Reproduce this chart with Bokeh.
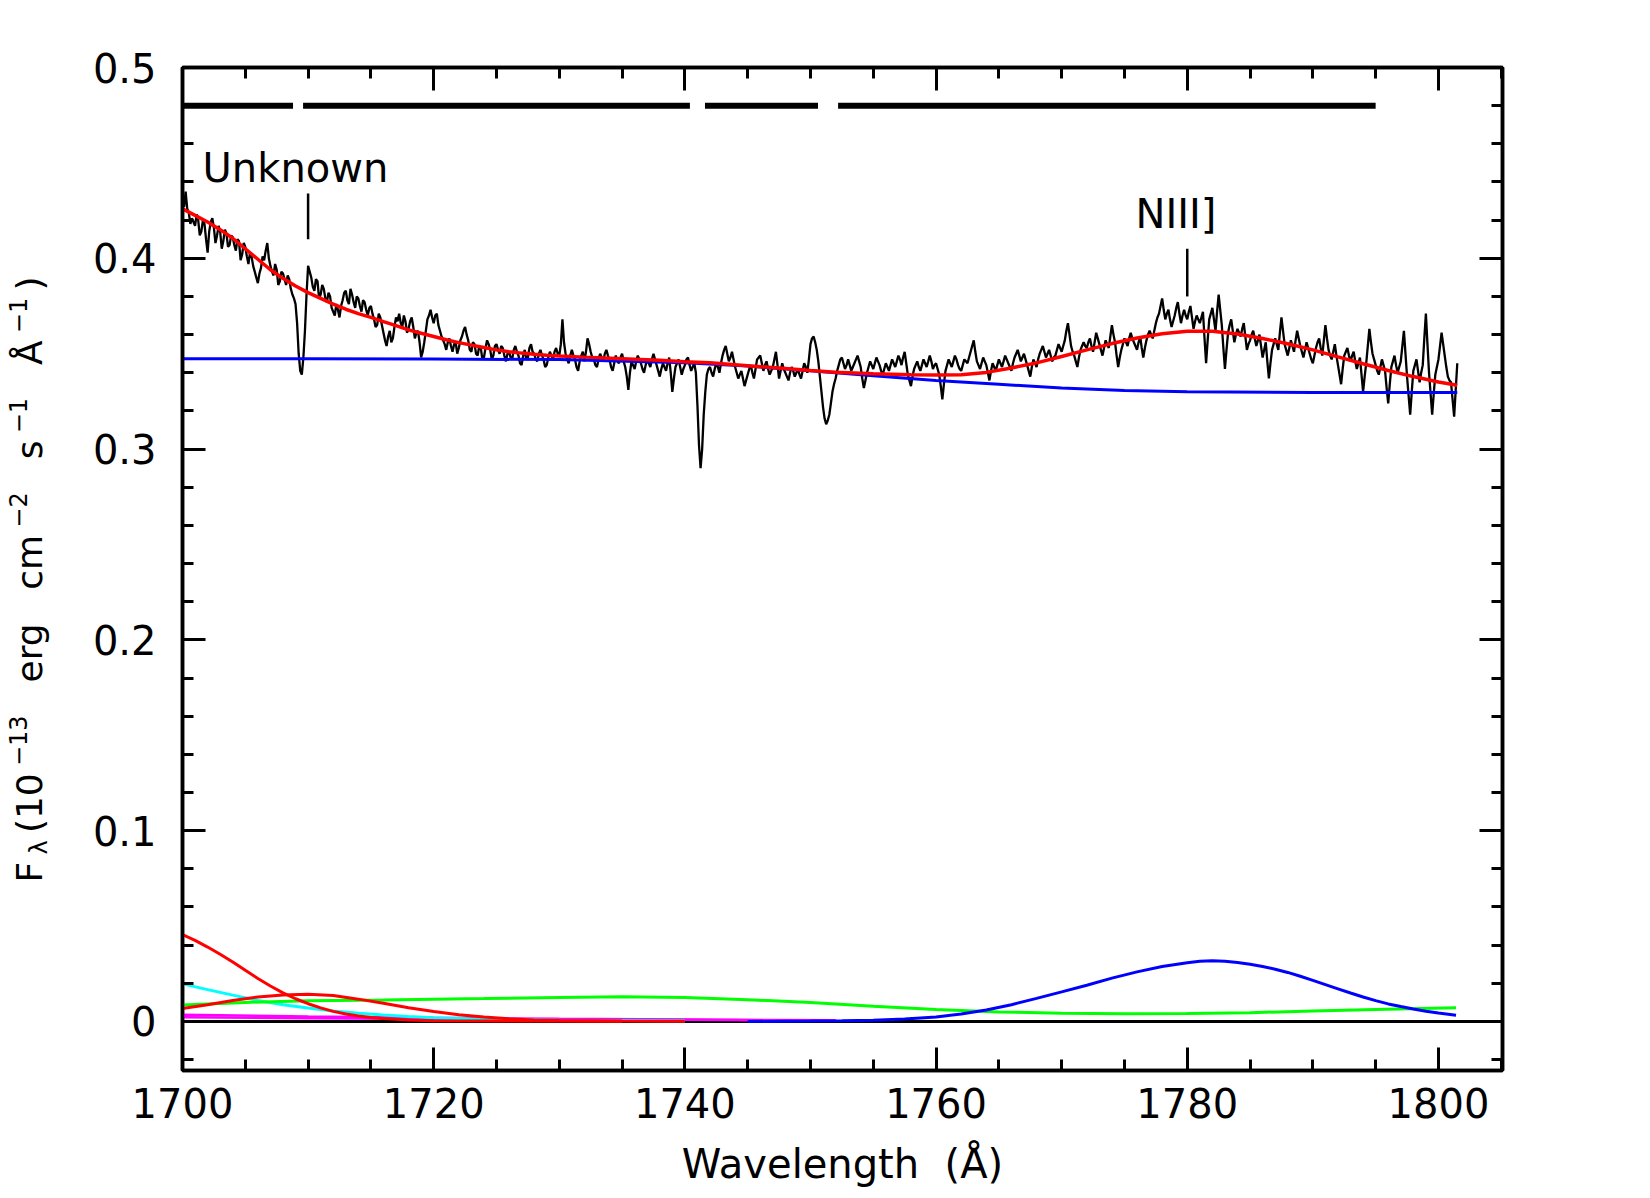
import math
from bokeh.plotting import figure
from bokeh.layouts import row
from bokeh.models import Range1d, FixedTicker, LinearAxis, CustomJSTickFormatter
from bokeh.core.properties import value
from bokeh.embed import file_html
from bokeh.resources import INLINE

FONT = "DejaVu Sans"

# ---------------- data ----------------
wave_start = 1700.0
wave_step = 0.125
flux = [
    0.430, 0.427, 0.435, 0.426, 0.424, 0.418, 0.421, 0.419,
    0.417, 0.423, 0.420, 0.412, 0.414, 0.420, 0.418, 0.410,
    0.403, 0.414, 0.419, 0.421, 0.416, 0.408, 0.412, 0.417,
    0.414, 0.405, 0.409, 0.415, 0.413, 0.406, 0.407, 0.412,
    0.411, 0.407, 0.404, 0.410, 0.409, 0.399, 0.402, 0.408,
    0.406, 0.401, 0.397, 0.403, 0.401, 0.396, 0.393, 0.390,
    0.387, 0.392, 0.395, 0.401, 0.399, 0.404, 0.408, 0.400,
    0.396, 0.393, 0.391, 0.397, 0.394, 0.386, 0.388, 0.393,
    0.392, 0.389, 0.386, 0.391, 0.389, 0.384, 0.381, 0.379,
    0.376, 0.366, 0.350, 0.341, 0.339, 0.348, 0.362, 0.381,
    0.396, 0.393, 0.390, 0.385, 0.383, 0.389, 0.388, 0.379,
    0.381, 0.386, 0.384, 0.379, 0.377, 0.382, 0.380, 0.374,
    0.372, 0.370, 0.376, 0.373, 0.369, 0.375, 0.378, 0.382,
    0.383, 0.378, 0.376, 0.384, 0.381, 0.377, 0.374, 0.380,
    0.379, 0.375, 0.372, 0.378, 0.377, 0.373, 0.370, 0.374,
    0.375, 0.371, 0.368, 0.364, 0.365, 0.371, 0.369, 0.365,
    0.361, 0.357, 0.354, 0.359, 0.362, 0.356, 0.358, 0.364,
    0.369, 0.367, 0.371, 0.366, 0.364, 0.370, 0.367, 0.361,
    0.363, 0.367, 0.369, 0.364, 0.358, 0.361, 0.362, 0.356,
    0.348, 0.351, 0.356, 0.362, 0.368, 0.370, 0.373, 0.369,
    0.366, 0.370, 0.371, 0.365, 0.362, 0.359, 0.357, 0.355,
    0.352, 0.356, 0.358, 0.354, 0.351, 0.355, 0.356, 0.350,
    0.353, 0.357, 0.359, 0.362, 0.364, 0.360, 0.357, 0.352,
    0.351, 0.356, 0.355, 0.350, 0.349, 0.354, 0.353, 0.347,
    0.348, 0.353, 0.357, 0.355, 0.352, 0.347, 0.349, 0.354,
    0.355, 0.352, 0.350, 0.354, 0.353, 0.349, 0.346, 0.350,
    0.351, 0.348, 0.347, 0.352, 0.354, 0.351, 0.349, 0.345,
    0.344, 0.349, 0.352, 0.347, 0.348, 0.353, 0.355, 0.351,
    0.350, 0.347, 0.346, 0.350, 0.352, 0.349, 0.347, 0.343,
    0.344, 0.348, 0.351, 0.349, 0.347, 0.351, 0.353, 0.350,
    0.349, 0.355, 0.368, 0.356, 0.350, 0.347, 0.345, 0.349,
    0.352, 0.349, 0.347, 0.343, 0.341, 0.346, 0.349, 0.351,
    0.346, 0.351, 0.358, 0.355, 0.351, 0.348, 0.347, 0.344,
    0.343, 0.347, 0.350, 0.348, 0.346, 0.350, 0.352, 0.349,
    0.347, 0.343, 0.341, 0.345, 0.349, 0.346, 0.345, 0.348,
    0.350, 0.346, 0.343, 0.338, 0.331, 0.340, 0.346, 0.344,
    0.342, 0.346, 0.349, 0.347, 0.345, 0.342, 0.340, 0.344,
    0.347, 0.345, 0.343, 0.347, 0.350, 0.347, 0.344, 0.341,
    0.338, 0.342, 0.345, 0.343, 0.341, 0.345, 0.348, 0.340,
    0.330, 0.337, 0.343, 0.345, 0.347, 0.343, 0.339, 0.342,
    0.344, 0.347, 0.348, 0.344, 0.341, 0.343, 0.345, 0.340,
    0.323, 0.302, 0.290, 0.300, 0.318, 0.330, 0.339, 0.342,
    0.343, 0.340, 0.338, 0.342, 0.345, 0.343, 0.340, 0.345,
    0.349, 0.352, 0.354, 0.350, 0.346, 0.348, 0.351, 0.347,
    0.343, 0.340, 0.337, 0.339, 0.341, 0.337, 0.333, 0.336,
    0.339, 0.342, 0.344, 0.340, 0.337, 0.342, 0.347, 0.348,
    0.349, 0.345, 0.341, 0.344, 0.346, 0.342, 0.339, 0.341,
    0.343, 0.347, 0.351, 0.344, 0.337, 0.341, 0.345, 0.342,
    0.340, 0.338, 0.336, 0.340, 0.343, 0.341, 0.338, 0.340,
    0.342, 0.339, 0.337, 0.341, 0.345, 0.343, 0.340, 0.347,
    0.355, 0.358, 0.359, 0.356, 0.352, 0.346, 0.338, 0.330,
    0.322, 0.316, 0.313, 0.315, 0.318, 0.324, 0.330, 0.334,
    0.337, 0.341, 0.344, 0.347, 0.348, 0.345, 0.342, 0.344,
    0.347, 0.344, 0.341, 0.343, 0.345, 0.347, 0.349, 0.346,
    0.343, 0.337, 0.332, 0.336, 0.340, 0.343, 0.346, 0.344,
    0.342, 0.345, 0.348, 0.346, 0.344, 0.341, 0.339, 0.342,
    0.345, 0.343, 0.341, 0.344, 0.347, 0.345, 0.343, 0.346,
    0.349, 0.347, 0.344, 0.348, 0.351, 0.345, 0.339, 0.336,
    0.333, 0.338, 0.342, 0.344, 0.346, 0.343, 0.341, 0.344,
    0.347, 0.345, 0.343, 0.346, 0.349, 0.346, 0.342, 0.344,
    0.345, 0.342, 0.339, 0.333, 0.326, 0.334, 0.341, 0.344,
    0.347, 0.345, 0.343, 0.346, 0.349, 0.347, 0.344, 0.342,
    0.341, 0.344, 0.347, 0.346, 0.345, 0.348, 0.351, 0.354,
    0.357, 0.351, 0.346, 0.344, 0.342, 0.345, 0.348, 0.346,
    0.344, 0.340, 0.336, 0.341, 0.345, 0.343, 0.341, 0.344,
    0.347, 0.345, 0.343, 0.346, 0.349, 0.347, 0.345, 0.343,
    0.341, 0.345, 0.348, 0.350, 0.352, 0.349, 0.346, 0.348,
    0.350, 0.347, 0.344, 0.341, 0.338, 0.343, 0.347, 0.345,
    0.343, 0.347, 0.350, 0.352, 0.354, 0.351, 0.348, 0.350,
    0.352, 0.349, 0.346, 0.348, 0.349, 0.352, 0.355, 0.353,
    0.351, 0.354, 0.357, 0.362, 0.366, 0.360, 0.354, 0.351,
    0.349, 0.346, 0.343, 0.348, 0.352, 0.354, 0.356, 0.354,
    0.353, 0.356, 0.358, 0.354, 0.351, 0.356, 0.361, 0.358,
    0.355, 0.352, 0.349, 0.353, 0.357, 0.355, 0.353, 0.359,
    0.365, 0.360, 0.356, 0.349, 0.343, 0.348, 0.352, 0.355,
    0.358, 0.356, 0.354, 0.358, 0.361, 0.358, 0.356, 0.354,
    0.352, 0.356, 0.359, 0.353, 0.348, 0.353, 0.357, 0.360,
    0.362, 0.360, 0.358, 0.362, 0.366, 0.369, 0.371, 0.375,
    0.379, 0.373, 0.368, 0.371, 0.373, 0.368, 0.364, 0.367,
    0.370, 0.374, 0.377, 0.371, 0.366, 0.370, 0.373, 0.370,
    0.368, 0.372, 0.375, 0.369, 0.363, 0.367, 0.370, 0.368,
    0.366, 0.369, 0.372, 0.358, 0.345, 0.357, 0.368, 0.371,
    0.374, 0.368, 0.362, 0.372, 0.381, 0.373, 0.365, 0.353,
    0.342, 0.352, 0.361, 0.365, 0.368, 0.362, 0.356, 0.360,
    0.363, 0.361, 0.359, 0.363, 0.366, 0.359, 0.352, 0.355,
    0.357, 0.360, 0.362, 0.358, 0.354, 0.357, 0.360, 0.354,
    0.348, 0.352, 0.356, 0.346, 0.337, 0.345, 0.352, 0.355,
    0.358, 0.355, 0.352, 0.361, 0.369, 0.362, 0.355, 0.352,
    0.349, 0.353, 0.357, 0.354, 0.351, 0.357, 0.362, 0.358,
    0.354, 0.351, 0.348, 0.352, 0.356, 0.353, 0.350, 0.347,
    0.345, 0.349, 0.353, 0.356, 0.358, 0.353, 0.349, 0.357,
    0.365, 0.358, 0.352, 0.349, 0.347, 0.351, 0.355, 0.349,
    0.344, 0.339, 0.334, 0.342, 0.349, 0.351, 0.353, 0.349,
    0.346, 0.349, 0.351, 0.346, 0.342, 0.345, 0.348, 0.339,
    0.330, 0.338, 0.345, 0.354, 0.363, 0.356, 0.350, 0.347,
    0.344, 0.341, 0.339, 0.343, 0.347, 0.344, 0.341, 0.332,
    0.324, 0.334, 0.343, 0.346, 0.349, 0.344, 0.340, 0.343,
    0.346, 0.354, 0.362, 0.350, 0.338, 0.328, 0.318, 0.330,
    0.341, 0.344, 0.347, 0.341, 0.335, 0.340, 0.344, 0.358,
    0.371, 0.355, 0.340, 0.329, 0.318, 0.329, 0.339, 0.343,
    0.347, 0.354, 0.361, 0.355, 0.349, 0.343, 0.338, 0.336,
    0.335, 0.326, 0.317, 0.331, 0.345,
]
wave = [wave_start + i * wave_step for i in range(len(flux))]

# total model (red)
model_wave = [1700, 1701, 1702, 1703, 1704, 1705, 1706, 1707, 1708, 1709, 1710,
              1711, 1712, 1713, 1714, 1715, 1716, 1717, 1718, 1719, 1720, 1721,
              1722, 1723, 1724, 1725, 1726, 1727, 1728, 1729, 1730, 1732, 1735,
              1738, 1740, 1742, 1745, 1748, 1750, 1752, 1755, 1758, 1760, 1762,
              1764, 1766, 1768, 1770, 1772, 1774, 1776, 1778, 1780, 1782, 1784,
              1786, 1788, 1790, 1792, 1794, 1796, 1798, 1800, 1801.5]
model_flux = [0.426, 0.4225, 0.419, 0.415, 0.4105, 0.405, 0.3995, 0.394, 0.3895, 0.3855, 0.382,
              0.379, 0.376, 0.3733, 0.371, 0.369, 0.3668, 0.3647, 0.3625, 0.3607, 0.359, 0.3573,
              0.3558, 0.3545, 0.3532, 0.352, 0.351, 0.3503, 0.3497, 0.3492, 0.3488, 0.3482, 0.3474,
              0.3465, 0.3458, 0.3452, 0.3437, 0.3422, 0.3412, 0.3403, 0.3395, 0.339, 0.3388, 0.339,
              0.3402, 0.3425, 0.3452, 0.3485, 0.352, 0.3553, 0.3582, 0.3605, 0.3617, 0.3618, 0.3603,
              0.3580, 0.3552, 0.3520, 0.3483, 0.3447, 0.3412, 0.3380, 0.3352, 0.3335]

# continuum (blue)
cont_wave = [1700, 1710, 1720, 1730, 1740, 1745, 1750, 1755, 1760, 1765, 1770, 1775, 1780, 1790, 1801.5]
cont_flux = [0.3474, 0.3474, 0.3472, 0.3469, 0.3452, 0.3435, 0.3410, 0.3385, 0.3360, 0.3340,
             0.3320, 0.3307, 0.3300, 0.3296, 0.3296]

# individual fit components
red1_wave = [1700, 1701, 1702, 1703, 1704, 1705, 1706, 1707, 1708, 1709, 1710, 1711, 1712,
             1713, 1714, 1715, 1716, 1718, 1720, 1725, 1735]
red1_flux = [0.0455, 0.0425, 0.0390, 0.0352, 0.0312, 0.0268, 0.0225, 0.0186, 0.0150, 0.0119,
             0.0093, 0.0071, 0.0053, 0.0039, 0.0029, 0.0021, 0.0015, 0.0008, 0.0004, 0.0002, 0.0001]

cyan_wave = [1700, 1702, 1704, 1706, 1708, 1710, 1712, 1714, 1716, 1718, 1720, 1724, 1730, 1740]
cyan_flux = [0.0197, 0.0167, 0.0138, 0.0110, 0.0088, 0.0070, 0.0055, 0.0043, 0.0034, 0.0026,
             0.0020, 0.0012, 0.0007, 0.0004]

red2_wave = [1700, 1702, 1704, 1706, 1708, 1710, 1712, 1714, 1716, 1718, 1720, 1722, 1724,
             1726, 1728, 1730, 1735, 1740]
red2_flux = [0.0068, 0.0088, 0.0110, 0.0128, 0.0139, 0.0143, 0.0136, 0.0117, 0.0095, 0.0072,
             0.0052, 0.0035, 0.0023, 0.0014, 0.0008, 0.0005, 0.0002, 0.0001]

green_wave = [1700, 1705, 1710, 1716, 1724, 1730, 1735, 1740, 1745, 1750, 1755, 1760, 1765,
              1770, 1775, 1780, 1785, 1790, 1795, 1801.4]
green_flux = [0.0086, 0.0100, 0.0109, 0.0113, 0.0120, 0.0126, 0.0129, 0.0126, 0.0114, 0.0100,
              0.0080, 0.0063, 0.0050, 0.0043, 0.0041, 0.0042, 0.0046, 0.0055, 0.0063, 0.0072]

blue_wave = [1745, 1750, 1752.5, 1755, 1757.5, 1760, 1762, 1764, 1766, 1768, 1770, 1772, 1774,
             1776, 1778, 1780, 1781, 1782, 1783, 1784, 1785, 1786, 1787, 1788, 1789, 1790,
             1791, 1792, 1793, 1794, 1795, 1796, 1797, 1798, 1799, 1800, 1801.4]
blue_flux = [0.0000, 0.0002, 0.0004, 0.0007, 0.0013, 0.0024, 0.0039, 0.0060, 0.0088, 0.0121,
             0.0155, 0.0190, 0.0227, 0.0260, 0.0288, 0.0308, 0.0315, 0.0318, 0.0316, 0.0309,
             0.0300, 0.0288, 0.0274, 0.0257, 0.0237, 0.0215, 0.0193, 0.0171, 0.0149, 0.0128,
             0.0109, 0.0092, 0.0078, 0.0065, 0.0054, 0.0044, 0.0033]

mag1_wave = [1700, 1710, 1720, 1730, 1740, 1752]
mag1_flux = [0.0035, 0.0026, 0.0019, 0.0014, 0.0010, 0.0006]
mag2_wave = [1700, 1710, 1720, 1740, 1752]
mag2_flux = [0.0022, 0.0017, 0.0013, 0.0009, 0.0005]

zero_wave = [1700, 1805]
zero_flux = [0.0, 0.0]

# fitting windows (bar at top)
win_start = [1700.0, 1709.6, 1741.6, 1752.2]
win_end = [1708.8, 1740.4, 1750.6, 1795.0]
win_level = [0.48, 0.48, 0.48, 0.48]

# line identifications
line_names = ["Unknown", "NIII]"]
line_wave = [1710.0, 1780.0]
tick_bottom = [0.410, 0.380]
tick_top = [0.434, 0.405]
label_x = [1701.6, 1779.1]
label_y = [0.4471, 0.4230]

x_major = [1700, 1720, 1740, 1760, 1780, 1800]
x_minor = [1700 + 5 * i for i in range(22)]
y_major = [0.0, 0.1, 0.2, 0.3, 0.4, 0.5]
y_minor = [round(-0.02 + 0.02 * i, 2) for i in range(27)]

# y-axis title pieces: (text, role) with role m = normal, sub = subscript, sup = superscript
ytitle_pieces = [("F", "m"), ("λ", "sub"), ("(10", "m"), ("−13", "sup"), ("erg", "m"),
                 ("cm", "m"), ("−2", "sup"), ("s", "m"), ("−1", "sup"), ("Å", "m"),
                 ("−1", "sup"), (")", "m")]

# ---------------- layout constants ----------------
H = 1198
LEFT_W = 80
FRAME_TOP = 67
FRAME_BOTTOM = 1070

# y-title layout (rotated text, reading upward)
YT_START, YT_END = 882, 276
YT_MAIN, YT_SMALL = 36, 24
YT_CX = {"m": 29, "sub": 38, "sup": 17}
EM = {"F": .575, "λ": .592, "(": .390, ")": .390, "1": .636, "0": .636, "2": .636,
      "3": .636, "−": .838, "e": .615, "r": .411, "g": .635, "c": .550, "m": .974,
      "s": .521, "Å": .684}
lengths = [sum(EM[c] for c in t) * (YT_MAIN if r == "m" else YT_SMALL) for t, r in ytitle_pieces]
word_gap = {(3, 4), (4, 5), (6, 7), (8, 9)}
gap_w = [1.0 if (i, i + 1) in word_gap else 0.22 for i in range(len(ytitle_pieces) - 1)]
unit = (YT_START - YT_END - sum(lengths)) / sum(gap_w)
yt_text, yt_y, yt_x, yt_size = [], [], [], []
pos = YT_START
for i, (t, r) in enumerate(ytitle_pieces):
    yt_text.append(t)
    yt_y.append(H - pos)
    yt_x.append(YT_CX[r])
    yt_size.append("%dpx" % (YT_MAIN if r == "m" else YT_SMALL))
    pos -= lengths[i]
    if i < len(gap_w):
        pos -= gap_w[i] * unit

# ---------------- left strip with the y title ----------------
left = figure(width=LEFT_W, height=H, output_backend="svg", toolbar_location=None,
              x_range=Range1d(0, LEFT_W), y_range=Range1d(H - FRAME_BOTTOM, H - FRAME_TOP),
              x_axis_location=None, y_axis_location=None,
              min_border_left=0, min_border_right=0,
              min_border_top=FRAME_TOP, min_border_bottom=H - FRAME_BOTTOM)
left.outline_line_color = None
left.xgrid.visible = False
left.ygrid.visible = False
left.background_fill_color = "white"
left.border_fill_color = "white"
left.text(x=yt_x, y=yt_y, text=yt_text, angle=math.pi / 2, text_font=value(FONT),
          text_font_size=yt_size, text_align="left", text_baseline="alphabetic",
          text_color="black")

# ---------------- main figure ----------------
p = figure(width=1650 - LEFT_W, height=H, output_backend="svg", toolbar_location=None,
           x_range=Range1d(1700, 1805.1), y_range=Range1d(-0.0257, 0.5),
           min_border_left=182 - LEFT_W, min_border_right=148, min_border_top=FRAME_TOP,
           min_border_bottom=H - FRAME_BOTTOM)
p.background_fill_color = "white"
p.border_fill_color = "white"
p.xgrid.visible = False
p.ygrid.visible = False
p.outline_line_color = "black"
p.outline_line_width = 3.5

x_ticker = FixedTicker(ticks=x_major, minor_ticks=x_minor)
y_ticker = FixedTicker(ticks=y_major, minor_ticks=y_minor)
yfmt = CustomJSTickFormatter(code="return tick == 0 ? '0' : tick.toFixed(1);")
xfmt = CustomJSTickFormatter(code="return tick.toFixed(0);")
blank = CustomJSTickFormatter(code="return '';")


def style_axis(ax, ticker, fmt, show_labels):
    ax.ticker = ticker
    ax.formatter = fmt
    ax.axis_line_width = 3.5
    ax.axis_line_color = "black"
    ax.major_tick_in = 23
    ax.major_tick_out = 0
    ax.minor_tick_in = 11
    ax.minor_tick_out = 0
    ax.major_tick_line_width = 3
    ax.minor_tick_line_width = 3
    ax.major_tick_line_color = "black"
    ax.minor_tick_line_color = "black"
    ax.major_label_text_font = FONT
    ax.major_label_text_font_size = "40px" if show_labels else "1px"
    ax.major_label_text_color = "black"


xb = p.xaxis[0]
style_axis(xb, x_ticker, xfmt, True)
xb.major_label_standoff = 17
xb.axis_label = "Wavelength\u00a0 (Å)"
xb.axis_label_text_font = FONT
xb.axis_label_text_font_size = "40px"
xb.axis_label_text_font_style = "normal"
xb.axis_label_text_color = "black"
xb.axis_label_standoff = 20

yl = p.yaxis[0]
style_axis(yl, y_ticker, yfmt, True)
yl.major_label_standoff = 26

xt = LinearAxis()
style_axis(xt, x_ticker, blank, False)
p.add_layout(xt, "above")
yr = LinearAxis()
style_axis(yr, y_ticker, blank, False)
p.add_layout(yr, "right")

# components near zero
p.line(zero_wave, zero_flux, line_color="black", line_width=3)
p.line(mag2_wave, mag2_flux, line_color="#ff00ff", line_width=2.5)
p.line(mag1_wave, mag1_flux, line_color="#ff00ff", line_width=2.5)
p.line(cyan_wave, cyan_flux, line_color="#00ffff", line_width=3)
p.line(green_wave, green_flux, line_color="#00ff00", line_width=3)
p.line(red1_wave, red1_flux, line_color="#ff0000", line_width=3)
p.line(red2_wave, red2_flux, line_color="#ff0000", line_width=3)
p.line(blue_wave, blue_flux, line_color="#0000ff", line_width=3)

# spectrum, continuum and model
p.line(wave, flux, line_color="black", line_width=2.3)
p.line(cont_wave, cont_flux, line_color="#0000ff", line_width=3)
p.line(model_wave, model_flux, line_color="#ff0000", line_width=3.5)

# windows and identifications
p.segment(x0=win_start, y0=win_level, x1=win_end, y1=win_level,
          line_color="black", line_width=6)
p.segment(x0=line_wave, y0=tick_bottom, x1=line_wave, y1=tick_top,
          line_color="black", line_width=2.5)
p.text(x=label_x[:1], y=label_y[:1], text=line_names[:1], text_font=value(FONT),
       text_font_size="40px", text_align="left", text_baseline="alphabetic",
       text_color="black")
p.text(x=label_x[1:], y=label_y[1:], text=line_names[1:], text_font=value(FONT),
       text_font_size="40px", text_align="center", text_baseline="alphabetic",
       text_color="black")

layout = row(left, p)
open("out.html", "w").write(file_html(layout, INLINE))
